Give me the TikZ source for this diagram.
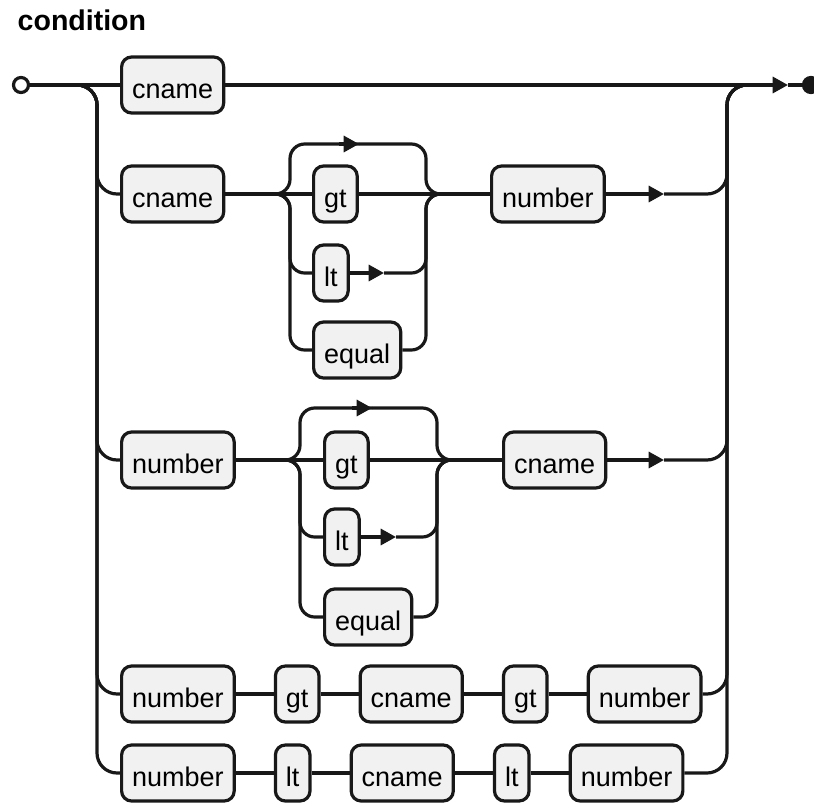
\documentclass[tikz,border=0pt]{standalone}
\usepackage{fontspec}
\setmainfont{Liberation Sans}
\usetikzlibrary{positioning, arrows.meta}
\definecolor{trait}{HTML}{181818}
\definecolor{fond}{HTML}{F1F1F1}

\begin{document}
\begin{tikzpicture}[x=0.75pt, y=-0.75pt,
    rail/.style={line width=2.4pt, draw=trait, rounded corners=15pt},
    fork/.style={rail, rounded corners=11pt},
    flow/.style={rail, sharp corners, -{Triangle[length=11.5pt, width=12pt]}},
    tok/.style={draw=trait, fill=fond, line width=2.4pt, rounded corners=7.5pt,
      minimum height=42pt, inner xsep=7.9pt, text height=22.3pt, text depth=2pt,
      font=\fontsize{20.25}{24}\selectfont},
    dot/.style={circle, draw=trait, line width=2.4pt, minimum size=11.25pt, inner sep=0pt}]

  \useasboundingbox (0,0) rectangle (814,803);
  \node[font=\fontsize{21.4}{25}\selectfont\bfseries, anchor=base west] (titre) at (13,30) {condition};

  % --- entree / sortie ---
  \node[dot, fill=white] (debut) at (21,85) {};
  \node[dot, fill=trait] (fin) at (811,85) {};
  \coordinate (g0) at (60,85);
  \coordinate (d0) at (760,85);

  % --- cname seul ---
  \node[tok, anchor=west] (c1) at (120,85) {cname};
  \coordinate (s1) at (788,85);
  \draw[rail] (debut) -- (c1);
  \draw[flow] (c1) -- (s1);
  \draw[rail] (s1) -- (fin);

  % --- cname op number ---
  \node[tok, anchor=west] (c2)  at (120,194) {cname};
  \node[tok, anchor=west] (gt2) at (312,194) {gt};
  \node[tok, anchor=west] (lt2) at (312,273) {lt};
  \node[tok, anchor=west] (eq2) at (312,350) {equal};
  \node[tok, anchor=west] (n2)  at (490,194) {number};
  \coordinate (f2a) at (266,194);
  \coordinate (f2b) at (451,194);
  \coordinate (h2) at (359,144);
  \coordinate (l2) at (384,273);
  \coordinate (s2) at (664,194);
  \draw[rail] (g0) -| (97,194) -- (c2);
  \draw[rail] (c2) -- (f2a) -- (gt2);
  \draw[rail] (gt2) -- (f2b) -- (n2);
  \draw[fork] (f2a) -| (290,144) -- (h2);
  \draw[flow] (h2) ++(-20,0) -- (h2);
  \draw[fork] (h2) -| (426,194) -- (f2b);
  \draw[fork] (f2a) -| (290,273) -- (lt2);
  \draw[flow] (lt2) -- (l2);
  \draw[fork] (l2) -| (426,194) -- (f2b);
  \draw[fork] (f2a) -| (290,350) -- (eq2);
  \draw[fork] (eq2) -| (426,194) -- (f2b);
  \draw[flow] (n2) -- (s2);
  \draw[rail] (s2) -| (727,85) -- (d0);

  % --- number op cname ---
  \node[tok, anchor=west] (n3)  at (120,460) {number};
  \node[tok, anchor=west] (gt3) at (323,460) {gt};
  \node[tok, anchor=west] (lt3) at (323,537) {lt};
  \node[tok, anchor=west] (eq3) at (323,617) {equal};
  \node[tok, anchor=west] (c3)  at (502,460) {cname};
  \coordinate (f3a) at (278,460);
  \coordinate (f3b) at (462,460);
  \coordinate (h3) at (372,408);
  \coordinate (l3) at (396,537);
  \coordinate (s3) at (664,460);
  \draw[rail] (g0) -| (97,460) -- (n3);
  \draw[rail] (n3) -- (f3a) -- (gt3);
  \draw[rail] (gt3) -- (f3b) -- (c3);
  \draw[fork] (f3a) -| (300,408) -- (h3);
  \draw[flow] (h3) ++(-20,0) -- (h3);
  \draw[fork] (h3) -| (437,460) -- (f3b);
  \draw[fork] (f3a) -| (300,537) -- (lt3);
  \draw[flow] (lt3) -- (l3);
  \draw[fork] (l3) -| (437,460) -- (f3b);
  \draw[fork] (f3a) -| (300,617) -- (eq3);
  \draw[fork] (eq3) -| (437,460) -- (f3b);
  \draw[flow] (c3) -- (s3);
  \draw[rail] (s3) -| (727,85) -- (d0);

  % --- number gt cname gt number ---
  \node[tok, anchor=west] (n4) at (120,694) {number};
  \node[tok, right=28.5pt of n4] (g4) {gt};
  \node[tok, right=28.5pt of g4] (c4) {cname};
  \node[tok, right=28.5pt of c4] (g4b) {gt};
  \node[tok, right=28.5pt of g4b] (n4b) {number};
  \draw[rail] (g0) -| (97,694) -- (n4);
  \draw[rail] (n4) -- (g4);
  \draw[rail] (g4) -- (c4);
  \draw[rail] (c4) -- (g4b);
  \draw[rail] (g4b) -- (n4b);
  \draw[rail] (n4b) -| (727,85) -- (d0);

  % --- number lt cname lt number ---
  \node[tok, anchor=west] (n5) at (120,773) {number};
  \node[tok, right=28.5pt of n5] (l5) {lt};
  \node[tok, right=28.5pt of l5] (c5) {cname};
  \node[tok, right=28.5pt of c5] (l5b) {lt};
  \node[tok, right=28.5pt of l5b] (n5b) {number};
  \draw[rail] (g0) -| (97,773) -- (n5);
  \draw[rail] (n5) -- (l5);
  \draw[rail] (l5) -- (c5);
  \draw[rail] (c5) -- (l5b);
  \draw[rail] (l5b) -- (n5b);
  \draw[rail] (n5b) -| (727,85) -- (d0);
\end{tikzpicture}
\end{document}
